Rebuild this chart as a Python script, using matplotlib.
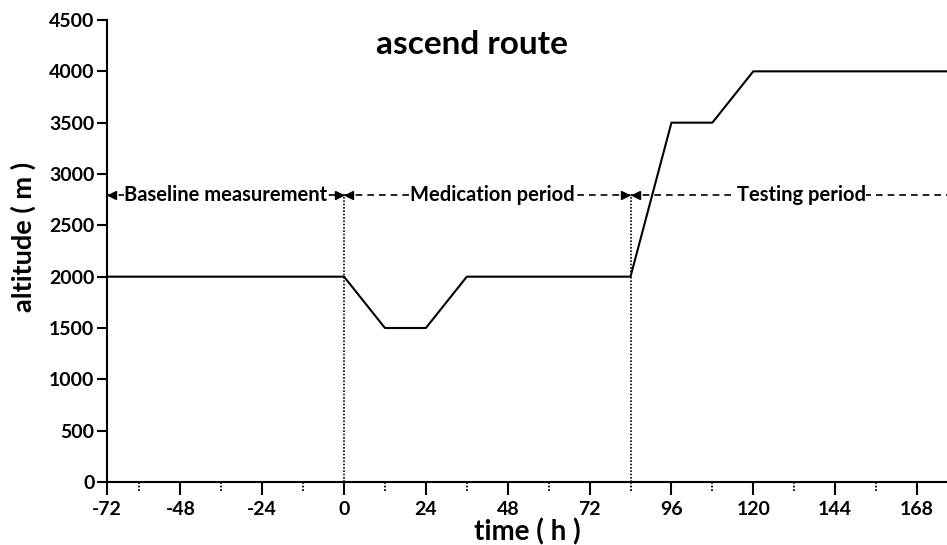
import numpy as np
import matplotlib
matplotlib.use("Agg")
import matplotlib.pyplot as plt
import matplotlib.transforms as mtransforms

plt.rcParams["font.family"] = ["Lato", "DejaVu Sans"]
plt.rcParams["font.weight"] = "bold"

# route profile (time in hours, altitude in m)
time_h = [-69.5, 0, 12, 24, 36, 84, 96, 108, 120, 177]
altitude_m = [2000, 2000, 1500, 1500, 2000, 2000, 3500, 3500, 4000, 4000]

x_ticks = [-72, -48, -24, 0, 24, 48, 72, 96, 120, 144, 168]
minor_ticks = [-60, -36, -12, 12, 36, 60, 84, 108, 132, 156]
y_ticks = [0, 500, 1000, 1500, 2000, 2500, 3000, 3500, 4000, 4500]

# periods: (start, end, label, label centre)
period_level = 2800
periods = [
    (-69.5, 0, "Baseline measurement", -34.7),
    (0, 84, "Medication period", 43.5),
    (84, 177, "Testing period", 134),
]
boundaries = [0, 84]

x_left, x_right = -69.5, 176.8

fig = plt.figure(figsize=(9.47, 5.45), dpi=100)
ax = fig.add_axes([0.113, 0.1156, 0.887, 0.8477])

ax.plot(time_h, altitude_m, color="black", lw=1.5, clip_on=False, zorder=3)

# vertical dotted boundaries
for b in boundaries:
    ax.plot([b, b], [0, period_level], color="black", lw=1.2,
            linestyle=(0, (1, 1)), zorder=2)

# period arrows and labels
for start, end, label, centre in periods:
    ax.plot([start, end], [period_level, period_level], color="black",
            lw=1.2, linestyle=(0, (4, 3)), clip_on=False, zorder=2)
    ax.plot(start + 1.6, period_level, marker="<", color="black",
            markersize=6, clip_on=False, zorder=4)
    if end < x_right:
        ax.plot(end - 1.6, period_level, marker=">", color="black",
                markersize=6, clip_on=False, zorder=4)
    ax.text(centre, period_level, label, fontsize=14.5, fontweight="bold",
            ha="center", va="center", zorder=5,
            bbox=dict(facecolor="white", edgecolor="none", pad=0.5))

ax.set_xlim(x_left, x_right)
ax.set_ylim(0, 4500)

# major x ticks; first label sits at the axis origin
tick_pos = [x_left] + x_ticks[1:]
ax.set_xticks(tick_pos)
ax.set_xticklabels([str(t) for t in x_ticks])
ax.set_yticks(y_ticks)

ax.tick_params(axis="x", length=9, width=1.5, pad=5, labelsize=14)
ax.tick_params(axis="y", length=7, width=1.5, pad=2, labelsize=14)
for lab in ax.get_xticklabels() + ax.get_yticklabels():
    lab.set_fontweight("bold")

# dotted minor ticks under the x axis
trans = mtransforms.blended_transform_factory(ax.transData, ax.transAxes)
for m in minor_ticks:
    ax.plot([m, m], [0, -0.019], color="black", lw=1.3,
            linestyle=(0, (1, 1)), transform=trans, clip_on=False)

for side in ["top", "right"]:
    ax.spines[side].set_visible(False)
for side in ["left", "bottom"]:
    ax.spines[side].set_linewidth(1.5)

ax.set_xlabel("time ( h )", fontsize=20, fontweight="bold", labelpad=0)
ax.set_ylabel("altitude ( m )", fontsize=19.5, fontweight="bold")
ax.yaxis.set_label_coords(-0.084, 0.53)
ax.text(0.434, 0.948, "ascend route", transform=ax.transAxes, fontsize=24,
        fontweight="bold", ha="center", va="center")

fig.savefig("out.png", dpi=100)
